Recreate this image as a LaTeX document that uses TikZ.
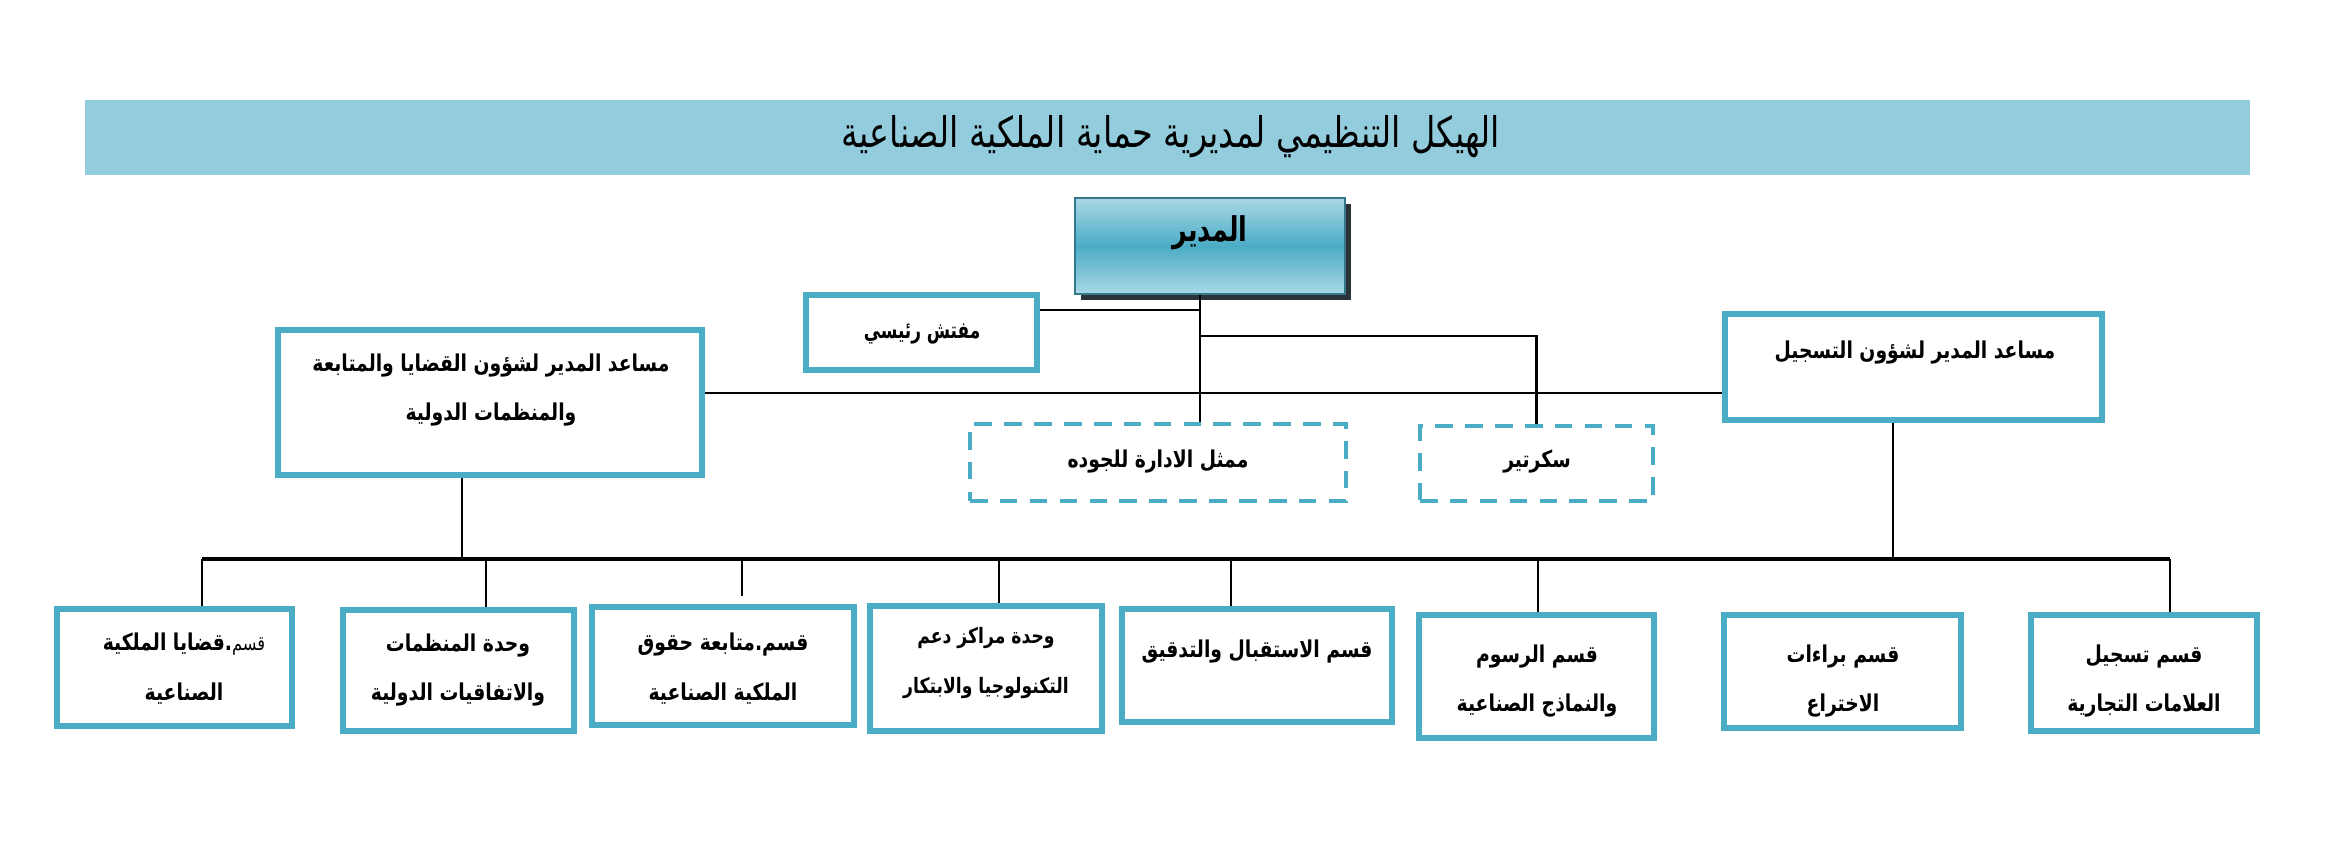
\documentclass[tikz,border=0pt]{standalone}
\usepackage{graphicx}
\usepackage{fontspec}
\usetikzlibrary{fit}
\TeXXeTstate=1
\newfontfamily\arabicfont[Script=Arabic]{DejaVu Sans}
\newcommand{\artx}[2][0.89]{\scalebox{#1}[1.1]{\beginR #2\endR}}
\definecolor{titlebg}{HTML}{93CDDD}
\definecolor{aqua}{HTML}{4BACC6}
\definecolor{aqualight}{HTML}{A9D8E6}
\definecolor{shadowc}{HTML}{2B3338}
\begin{document}
\begin{tikzpicture}[x=0.01cm,y=-0.01cm,
  box/.style={draw=aqua,line width=1.7pt,fill=white,inner sep=0pt},
  dbox/.style={draw=aqua,line width=0.9pt,dash pattern=on 5pt off 3.5pt,inner sep=0pt},
  conn/.style={line width=0.6pt,draw=black},
  busline/.style={line width=0.9pt,draw=black},
  txt/.style={font=\arabicfont\bfseries\fontsize{6}{14.2}\selectfont,align=center,inner sep=0pt},
  smalltxt/.style={font=\arabicfont\bfseries\fontsize{5.5}{14.2}\selectfont,align=center,inner sep=0pt}
]
\useasboundingbox (0,0) rectangle (2339,854);
% title
\node[fill=titlebg,inner sep=0pt,fit={(85,100) (2250,175)}] (title) {};
\node[font=\arabicfont\fontsize{10}{12}\selectfont,inner sep=0pt] (titletxt) at (1171,137) {\scalebox{0.95}[1.2]{\beginR الهيكل التنظيمي لمديرية حماية الملكية الصناعية\endR}};
% director
\fill[shadowc] (1081,204) rectangle (1351,300);
\node[inner sep=0pt,draw=aqua!70!black,line width=0.4pt,top color=aqualight,bottom color=aqualight,middle color=aqua,fit={(1075,198) (1345,294)}] (dir) {};
\node[font=\arabicfont\bfseries\fontsize{8.8}{13}\selectfont,inner sep=0pt] (dirtxt) at (1210,233) {\artx[0.82]{المدير}};
% level 2
\node[box,fit={(806,295) (1037,370)}] (muf) {};
\node[txt] (muftxt) at (922,334) {\artx[0.8]{مفتش رئيسي}};
\node[box,fit={(278,330) (702,475)}] (leftA) {};
\node[txt] (leftAtxt) at (491,390) {\artx{مساعد المدير لشؤون القضايا والمتابعة}\\\artx{والمنظمات الدولية}};
\node[box,fit={(1725,314) (2102,420)}] (rightA) {};
\node[txt] (rightAtxt) at (1915,353) {\artx{مساعد المدير لشؤون التسجيل}};
\node[dbox,fit={(970,424) (1346,501)}] (qual) {};
\node[txt] (qualtxt) at (1158,462) {\artx{ممثل الادارة للجوده}};
\node[dbox,fit={(1420,426) (1653,501)}] (sec) {};
\node[txt] (sectxt) at (1537,462) {\artx{سكرتير}};
% bottom boxes
\node[box,fit={(57,609) (292,726)}] (b1) {};
\node[box,fit={(343,610) (574,731)}] (b2) {};
\node[box,fit={(592,607) (854,725)}] (b3) {};
\node[box,fit={(870,606) (1102,731)}] (b4) {};
\node[box,fit={(1122,609) (1392,722)}] (b5) {};
\node[box,fit={(1419,615) (1654,738)}] (b6) {};
\node[box,fit={(1724,615) (1961,728)}] (b7) {};
\node[box,fit={(2031,615) (2257,731)}] (b8) {};
\node[txt] (b1txt) at (184,669) {\artx{{\mdseries\fontsize{5.2}{14.2}\selectfont قسم}.قضايا الملكية}\\\artx{الصناعية}};
\node[txt] (b2txt) at (458,670) {\artx{وحدة المنظمات}\\\artx{والاتفاقيات الدولية}};
\node[txt] (b3txt) at (723,669) {\artx{قسم.متابعة حقوق}\\\artx{الملكية الصناعية}};
\node[smalltxt] (b4txt) at (986,663) {\artx{وحدة مراكز دعم}\\\artx{التكنولوجيا والابتكار}};
\node[txt] (b5txt) at (1257,652) {\artx{قسم الاستقبال والتدقيق}};
\node[txt] (b6txt) at (1537,681) {\artx{قسم الرسوم}\\\artx{والنماذج الصناعية}};
\node[txt] (b7txt) at (1843,681) {\artx{قسم براءات}\\\artx{الاختراع}};
\node[txt] (b8txt) at (2144,681) {\artx{قسم تسجيل}\\\artx{العلامات التجارية}};
% connector coordinates
\coordinate (vx) at (1200,0);
\coordinate (j1) at (1200,310);
\coordinate (j2) at (1200,336);
\coordinate (m) at (0,393);
\coordinate (ld) at (462,559);
\coordinate (rd) at (1893,559);
\coordinate (d1) at (202,559);
\coordinate (d2) at (486,559);
\coordinate (d3) at (742,559);
\coordinate (d3end) at (742,596);
\coordinate (d4) at (999,559);
\coordinate (d5) at (1231,559);
\coordinate (d6) at (1538,559);
\coordinate (d8) at (2170,559);
% connectors
\draw[conn] (dir.south -| vx) -- (qual.north -| vx);
\draw[conn] (j1 -| muf.east) -- (j1);
\draw[conn] (j2) -- (j2 -| sec.north) -- (sec.north);
\draw[conn] (leftA.east |- m) -- (rightA.west |- m);
\draw[conn] (ld |- leftA.south) -- (ld);
\draw[conn] (rd |- rightA.south) -- (rd);
\draw[busline] (d1) -- (d8);
\draw[conn] (d1) -- (d1 |- b1.north);
\draw[conn] (d2) -- (d2 |- b2.north);
\draw[conn] (d3) -- (d3end);
\draw[conn] (d4) -- (d4 |- b4.north);
\draw[conn] (d5) -- (d5 |- b5.north);
\draw[conn] (d6) -- (d6 |- b6.north);
\draw[conn] (d8) -- (d8 |- b8.north);
\end{tikzpicture}
\end{document}
